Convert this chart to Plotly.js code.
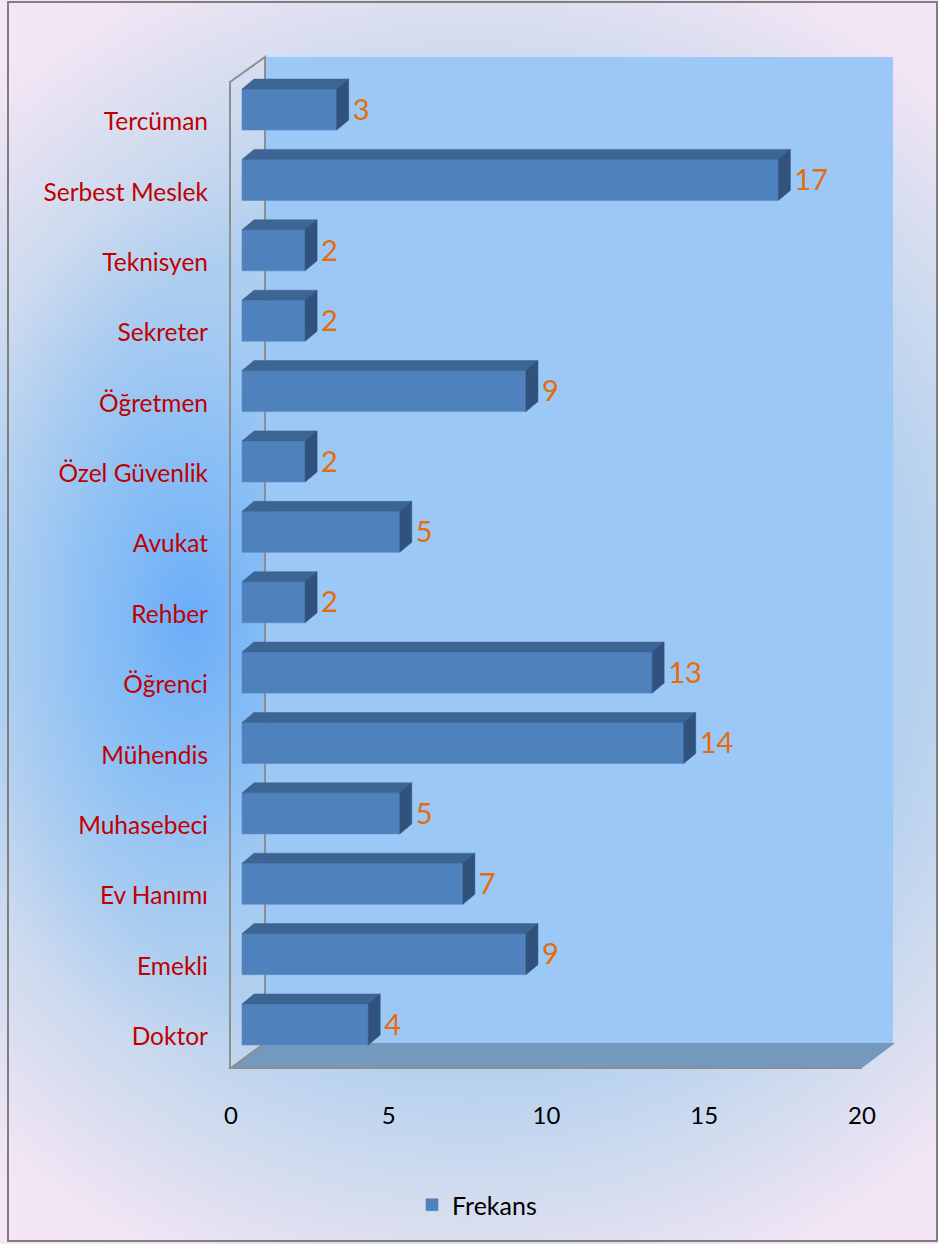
<!DOCTYPE html>
<html>
<head>
<meta charset="utf-8">
<script src="https://cdn.plot.ly/plotly-3.0.1.min.js"></script>
<style>html,body{margin:0;padding:0;background:#fff}#chart{width:938px;height:1244px}</style>
</head>
<body>
<div id="chart"></div>
<script>
// ---- data (bottom to top) ----
const categories = ['Doktor','Emekli','Ev Hanımı','Muhasebeci','Mühendis','Öğrenci','Rehber','Avukat','Özel Güvenlik','Öğretmen','Sekreter','Teknisyen','Serbest Meslek','Tercüman'];
const frekans = [4, 9, 7, 5, 14, 13, 2, 5, 2, 9, 2, 2, 17, 3];
const seriesName = 'Frekans';
const xTickVals = [0, 5, 10, 15, 20];

// ---- geometry / styles ----
const W = 938, H = 1244;
const ORIGIN_PX = 242, UNIT_PX = 31.55;       // px per unit on x
const CAT0_PX = 1024.5, CAT_STEP = 70.38;     // y px of first category centre, spacing
const PLOT_L = 231, PLOT_R = 893, PLOT_T = 57, PLOT_B = 1068;
const xRange = [(PLOT_L - ORIGIN_PX) / UNIT_PX, (PLOT_R - ORIGIN_PX) / UNIT_PX];
const yRange = [(CAT0_PX - PLOT_B) / CAT_STEP, (CAT0_PX - PLOT_T) / CAT_STEP];
const half = 0.2915;               // half bar thickness (category units)
const dX = 12 / UNIT_PX;           // 3D depth offset in x units
const dY = 10 / CAT_STEP;          // 3D depth offset in category units
const labelPadX = 4 / UNIT_PX;     // gap between side face and value label
const labelPadY = 3 / CAT_STEP;    // small downward nudge of value labels

const idx = categories.map((_, i) => i);

// top faces & side faces built from data
const topX = [], topY = [], sideX = [], sideY = [];
frekans.forEach((v, i) => {
  const t = i + half, b = i - half;
  topX.push(0, v, v + dX, dX, 0, null);
  topY.push(t, t, t + dY, t + dY, t, null);
  sideX.push(v, v + dX, v + dX, v, v, null);
  sideY.push(b, b + dY, t + dY, t, b, null);
});

const px = x => x / W;
const py = y => 1 - y / H;
const path = pts => pts.map((p, k) => (k ? 'L' : 'M') + px(p[0]).toFixed(5) + ',' + py(p[1]).toFixed(5)).join(' ');

const bgSvg = `<svg xmlns="http://www.w3.org/2000/svg" width="${W}" height="${H}" viewBox="0 0 ${W} ${H}" preserveAspectRatio="none">
<defs>
<radialGradient id="a" gradientUnits="userSpaceOnUse" cx="469" cy="622" r="800">
<stop offset="0" stop-color="#A9CDF2"/>
<stop offset="0.55" stop-color="#B3D0EE"/>
<stop offset="0.72" stop-color="#D2DCEF"/>
<stop offset="0.88" stop-color="#F1E5F4"/>
<stop offset="1" stop-color="#F8E6F5"/>
</radialGradient>
<radialGradient id="b" gradientUnits="userSpaceOnUse" cx="0" cy="0" r="1" gradientTransform="translate(190 620) scale(250 430)">
<stop offset="0" stop-color="#6AADF8" stop-opacity="1"/>
<stop offset="0.45" stop-color="#84BDF6" stop-opacity="0.75"/>
<stop offset="1" stop-color="#A9CDF2" stop-opacity="0"/>
</radialGradient>
</defs>
<rect x="0" y="0" width="${W}" height="${H}" fill="url(#a)"/>
<rect x="0" y="0" width="${W}" height="${H}" fill="url(#b)"/>
</svg>`;
const bgUri = 'data:image/svg+xml;charset=utf-8,' + encodeURIComponent(bgSvg);

const FONT = 'Lato, "Open Sans", sans-serif';

const traces = [
  { // front faces
    type: 'bar', orientation: 'h', name: seriesName,
    x: frekans, y: idx, base: 0, width: 2 * half,
    marker: { color: '#4F81BD', line: { width: 0.6, color: '#5A8BC5' } },
    hoverinfo: 'x+y', showlegend: true
  },
  { // top faces
    type: 'scatter', mode: 'lines', x: topX, y: topY, fill: 'toself',
    fillcolor: '#3C6594', line: { width: 0.5, color: '#3A6190' },
    hoverinfo: 'skip', showlegend: false
  },
  { // side faces
    type: 'scatter', mode: 'lines', x: sideX, y: sideY, fill: 'toself',
    fillcolor: '#30527C', line: { width: 0.5, color: '#2E4F78' },
    hoverinfo: 'skip', showlegend: false
  },
  { // value labels
    type: 'scatter', mode: 'text',
    x: frekans.map(v => v + dX + labelPadX), y: idx.map(i => i - labelPadY),
    text: frekans.map(String), textposition: 'middle right',
    textfont: { family: FONT, size: 29, color: '#E46C0A' },
    hoverinfo: 'skip', showlegend: false, cliponaxis: false
  }
];

const layout = {
  width: W, height: H,
  margin: { l: 0, r: 0, t: 0, b: 0 },
  paper_bgcolor: '#D3E0F2',
  plot_bgcolor: 'rgba(0,0,0,0)',
  font: { family: FONT },
  xaxis: {
    domain: [px(PLOT_L), px(PLOT_R)], range: xRange,
    tickvals: xTickVals, ticktext: xTickVals.map(String),
    showgrid: false, zeroline: false, showline: false, ticks: '',
    ticklabelshift: -11, ticklabelstandoff: 31,
    tickfont: { size: 24, color: '#000000', family: FONT },
    fixedrange: true
  },
  yaxis: {
    domain: [py(PLOT_B), py(PLOT_T)], range: yRange,
    tickvals: idx, ticktext: categories,
    showgrid: false, zeroline: false, showline: false, ticks: '',
    ticklabelshift: 12, ticklabelstandoff: 22,
    tickfont: { size: 24.5, color: '#C00000', family: FONT },
    fixedrange: true
  },
  showlegend: true,
  legend: {
    orientation: 'h', x: px(412), xanchor: 'left', y: py(1205), yanchor: 'middle',
    font: { size: 25, color: '#000000', family: FONT },
    bgcolor: 'rgba(0,0,0,0)'
  },
  images: [{
    source: bgUri, xref: 'paper', yref: 'paper', x: 0, y: 1, sizex: 1, sizey: 1,
    sizing: 'stretch', xanchor: 'left', yanchor: 'top', layer: 'below'
  }],
  shapes: [
    { // back wall
      type: 'rect', xref: 'paper', yref: 'paper', layer: 'below',
      x0: px(265), x1: px(893), y0: py(1043), y1: py(PLOT_T),
      fillcolor: '#9CC8F7', line: { width: 0 }
    },
    { // floor
      type: 'path', xref: 'paper', yref: 'paper', layer: 'below',
      path: path([[231, 1068], [862, 1068], [895, 1043], [265, 1043]]) + ' Z',
      fillcolor: '#7599BE', line: { width: 0 }
    },
    { // left wall outline
      type: 'path', xref: 'paper', yref: 'paper', layer: 'below',
      path: path([[230, 1068], [230, 82], [265, 57], [265, 1043], [231, 1068], [862, 1068]]),
      line: { width: 2, color: '#8E8E8E' }
    },
    { // chart border
      type: 'rect', xref: 'paper', yref: 'paper', layer: 'above',
      x0: px(8), x1: px(937), y0: py(1241), y1: py(2),
      line: { width: 2, color: '#7F7F7F' }, fillcolor: 'rgba(0,0,0,0)'
    }
  ]
};

Plotly.newPlot('chart', traces, layout, { displayModeBar: false, staticPlot: true });
</script>
</body>
</html>
